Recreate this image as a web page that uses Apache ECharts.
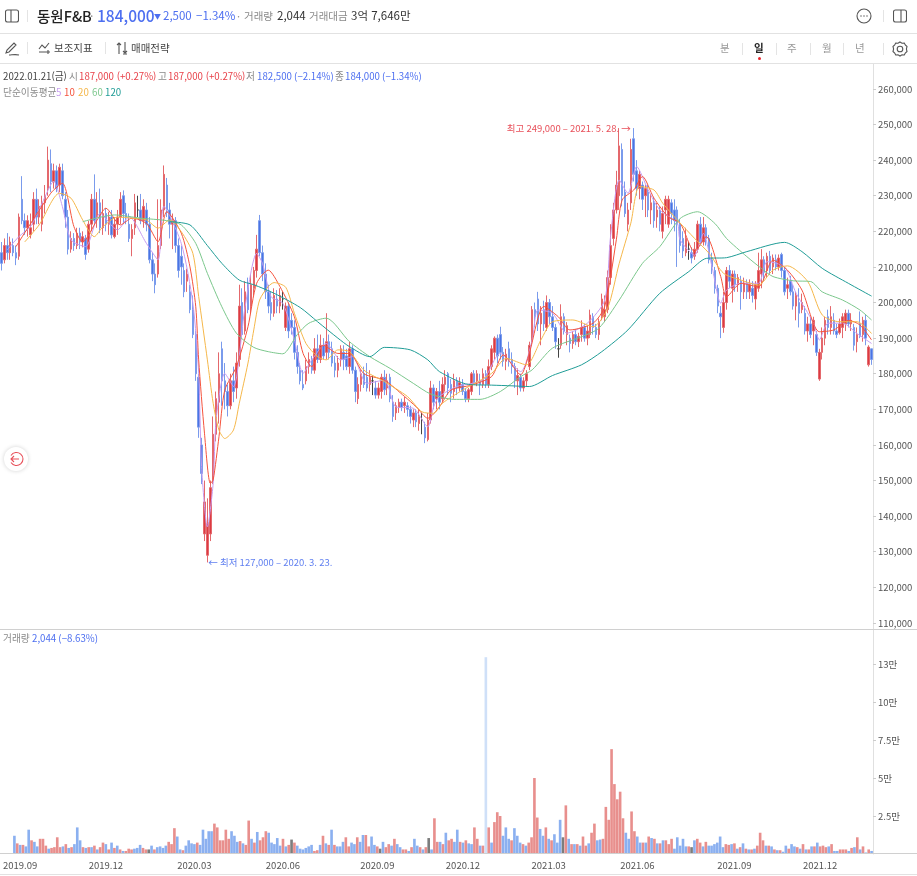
<!DOCTYPE html>
<html lang="ko">

<head>
    <meta charset="UTF-8">
    <title>동원F&amp;B</title>
    <script src="https://cdn.jsdelivr.net/npm/echarts@6/dist/echarts.min.js"></script>
    <style>
        html, body { margin: 0; padding: 0; background: #fff; }
        body { width: 917px; height: 876px; position: relative; overflow: hidden; font-family: "Noto Sans CJK KR", "Noto Sans", sans-serif; }
        #chart { position: absolute; left: 0; top: 0; width: 917px; height: 876px; }
        .t { position: absolute; white-space: nowrap; line-height: 1; transform: translateY(-50%); }
        .hr { position: absolute; left: 0; width: 917px; height: 1px; background: #e2e2e2; }
        .sep { position: absolute; width: 1px; height: 12px; background: #e4e4e4; }
        svg { position: absolute; fill: none; stroke: #555; stroke-width: 1.1; }
        .blue { color: #4d6ff0; } .red { color: #e8424a; } .gray { color: #8a8a8a; } .dark { color: #333; }
        .s10 { font-size: 9.7px; }
    </style>
</head>

<body>
    <div id="chart"></div>

    <div class="hr" style="top:33px"></div>
    <div class="hr" style="top:63px"></div>
    <div class="hr" style="top:629px;background:#d0d0d0"></div>
    <div class="hr" style="top:853px;background:#d0d0d0"></div>
    <div class="hr" style="top:874px"></div>

    <!-- 상단 종목 정보 -->
    <svg style="left:5px;top:9px" width="14" height="14"><rect x="0.5" y="1" width="13" height="12" rx="2"/><path d="M6 1v12"/></svg>
    <div class="sep" style="left:27px;top:10px"></div>
    <span class="t" style="left:37px;top:16px;font-size:14.5px;font-weight:500;color:#222">동원F&amp;B</span>
    <span class="t gray" style="left:90px;top:16px;font-size:12px">·</span>
    <span class="t blue" style="left:97px;top:16px;font-size:15.5px;font-weight:500">184,000</span>
    <span class="t blue" style="left:154px;top:16px;font-size:7px">▼</span>
    <span class="t blue" style="left:163px;top:16px;font-size:11.5px">2,500</span>
    <span class="t blue" style="left:196px;top:16px;font-size:11.5px">−1.34%</span>
    <span class="t gray" style="left:237px;top:16px;font-size:11px">·</span>
    <span class="t gray" style="left:244px;top:16px;font-size:10.5px">거래량</span>
    <span class="t dark" style="left:277px;top:16px;font-size:11.5px">2,044</span>
    <span class="t gray" style="left:309px;top:16px;font-size:10.5px">거래대금</span>
    <span class="t dark" style="left:351px;top:16px;font-size:11.5px">3억 7,646만</span>
    <svg style="left:856px;top:8px" width="16" height="16"><circle cx="8" cy="8" r="7"/><path d="M4.5 8h1M7.5 8h1M10.5 8h1" stroke-width="1.4"/></svg>
    <div class="sep" style="left:883px;top:10px"></div>
    <svg style="left:893px;top:9px" width="14" height="14"><rect x="0.5" y="1" width="13" height="12" rx="2"/><path d="M8 1v12"/></svg>

    <!-- 도구 모음 -->
    <svg style="left:5px;top:41px" width="15" height="15"><path d="M1 12l1-3 7-7 2 2-7 7zM4 14c3 0 6-1 10 0"/></svg>
    <div class="sep" style="left:27px;top:42px"></div>
    <svg style="left:38px;top:42px" width="13" height="12"><path d="M1 7l3-4 3 3 4-5M1 10h7M10 8v4M8 10h4"/></svg>
    <span class="t" style="left:54px;top:48px;font-size:10.5px;color:#444">보조지표</span>
    <div class="sep" style="left:105px;top:42px"></div>
    <svg style="left:116px;top:41px" width="12" height="14"><path d="M3 13V2M1 4l2-2 2 2M9 1v11M7 10l2 2 2-2M7 13h4"/></svg>
    <span class="t" style="left:131px;top:48px;font-size:10.5px;color:#444">매매전략</span>
    <span class="t" style="left:720px;top:48px;font-size:10.5px;color:#999">분</span>
    <div class="sep" style="left:742px;top:43px"></div>
    <span class="t" style="left:754px;top:48px;font-size:10.5px;font-weight:700;color:#222">일</span>
    <div style="position:absolute;left:758px;top:57px;width:3px;height:3px;border-radius:2px;background:#e8242c"></div>
    <div class="sep" style="left:776px;top:43px"></div>
    <span class="t" style="left:787px;top:48px;font-size:10.5px;color:#999">주</span>
    <div class="sep" style="left:810px;top:43px"></div>
    <span class="t" style="left:822px;top:48px;font-size:10.5px;color:#999">월</span>
    <div class="sep" style="left:843px;top:43px"></div>
    <span class="t" style="left:855px;top:48px;font-size:10.5px;color:#999">년</span>
    <div class="sep" style="left:883px;top:43px"></div>
    <svg style="left:892px;top:41px" width="16" height="16"><path d="M8 1l2 1.2 2.3-.2 1 2 1.7 1.5-.6 2.5.6 2.5-1.7 1.500-1 2-2.300-.2L8 15l-2-1.200-2.300.2-1-2L1 10.500 1.600 8 1 5.500 2.700 4l1-2 2.300.2z"/><circle cx="8" cy="8" r="2.800"/></svg>

    <!-- 시세 범례 -->
    <span class="t s10" style="left:3px;top:77px;color:#444">2022.01.21(금)</span>
    <span class="t s10 gray" style="left:69px;top:77px">시</span>
    <span class="t s10 red" style="left:79px;top:77px">187,000 (+0.27%)</span>
    <span class="t s10 gray" style="left:158px;top:77px">고</span>
    <span class="t s10 red" style="left:168px;top:77px">187,000 (+0.27%)</span>
    <span class="t s10 gray" style="left:246px;top:77px">저</span>
    <span class="t s10 blue" style="left:257px;top:77px">182,500 (−2.14%)</span>
    <span class="t s10 gray" style="left:335px;top:77px">종</span>
    <span class="t s10 blue" style="left:345px;top:77px">184,000 (−1.34%)</span>
    <span class="t s10 gray" style="left:3px;top:93px">단순이동평균</span>
    <span class="t s10" style="left:56px;top:93px;color:#c79cf0">5</span>
    <span class="t s10" style="left:64px;top:93px;color:#f5533d">10</span>
    <span class="t s10" style="left:78px;top:93px;color:#f5b74a">20</span>
    <span class="t s10" style="left:92px;top:93px;color:#7bc78c">60</span>
    <span class="t s10" style="left:105px;top:93px;color:#1f9c96">120</span>
    <span class="t s10 gray" style="left:3px;top:639px">거래량</span>
    <span class="t s10 blue" style="left:32px;top:639px">2,044 (−8.63%)</span>

    <!-- 좌측 이동 버튼 -->
    <div style="position:absolute;left:4px;top:447px;width:24px;height:24px;border-radius:12px;background:#fff;box-shadow:0 0 4px rgba(0,0,0,.18)"></div>
    <svg style="left:8px;top:451px;stroke:#e8505a" width="16" height="16"><path d="M3 4.500A6.500 6.500 0 1 1 3 11.500M11 8H3M6 5L3 8l3 3"/></svg>

    <script>
        // 단위: 가격 천원, 거래량 천주 / 2거래일 간격으로 그림에서 읽은 값
        const opens = [
            214,212,216,214,216,214,213,229,223,221, 219,222,229,224,222,228,232,239,234,237,
            233,237,229,224,215,218,216,219.5,217,218, 215,222,229,224,228,221,225,222,224,218.5,
            222,224,230,225,222,218,221,226,226,223, 226,222,212,208,208,216,226,233,226,222,
            223,216,213,209,206,203,198,191,179,160, 135,129,135,150,163,172,187,178,175,171,
            178,176,184,200,192,205,199,204,209,223, 214,208,203,200,197,201,199,201,193,199,
            195,193,186,181,177,178,182,184,181,187, 184,188,186,189,187,183,181,184,186,185,
            182,187,181,173,177,180,179,177,178,176, 174,175,179,176,179,172,169,170.5,172,171,
            171,170,167,169,166,167,165,161.5,167,176, 173,175,173,177,180,177,175,178,176,177,
            175,173,175,180,178,178,177,180,177,182, 186,190,191,186,183.5,187,184,182,178,179,
            176,178,182,190,198,201,194,198,193,200, 196,193,187,188,196,191,190,188.5,191,189,
            191,193,190,191,196,193,191,196,196,198, 207,218,226,230,243,231,222,228,246,237,
            232,233,230,231,226,228,224,226,220,226, 222,228,226,226,222,218,214,215,214,213,
            215,222,217,221,218,212,209,204,197,193, 200,209,204,208,205,206,203,205.5,203,204,
            201,204,208,212,209,213,210,212,210,213.5, 209,204,206,203,199,200,198,197,192,194,
            192,191,178.5,186,190,196,193,195,192,191.5, 193,194,197,194,193,189,194,191,195,182.5,187
        ];
        const closes = [
            211,216,214,217,214,212.5,224,223,221,223, 221,229,224,227,228,230,240,234,237,232,
            238,230,224,215,218,216,219.5,217,218.5,213.5, 222,229,223,228,221,225,222,224,219,222,
            224,229,225,224,218,220.5,228,226,223,227, 222,212,208,205,216,226,236,226,222,223,
            216,209,210,203,208,198,191,180,165,152, 144,138,148,163,173,180,178,175,171,178,
            175,183,199,191,203,198,205,209,215,214, 208,203,199,197,202,199,202,201,199,192,
            193,186,182,178,176,182,184,181,187,184, 188,185,189,186,183,181,183,187,184,182,
            187,181,175,177,180,177,176,179,178,174, 176,179,175.5,178,173,168,171,172,170.5,172,
            170,168,169,166.5,168,167,162,167,176,172, 175,172,177,179,176,174.5,178,176,177.5,175,
            173,175.5,180,177.5,180,177,180,177,182,187, 190,185,186,183.5,185.5,184,182,178,179.5,176,
            178,180,188,198,196,194,197,194,200,196, 193,189,187,196,192,193.5,188.5,191,189,190.5,
            193,190,192,196.5,193,191,194.5,201,198,207, 216,226,233,244,230,225,226,243,236,232,
            236,229,232,226,228,223,226,222,225,229, 229,225,223,222,216,214.5,218,215,212.5,215,
            222,217,221,218,212,210,204,199,196,200, 209,206,208,205,207,203,205.5,203,205,202,
            205,209,212,208.5,213,209,212.5,210,212.5,209, 203,205,203,199,202,197,200,192,194,191,
            195,186,186,190,195,193,196,192,191,194, 196,197,194,195,188,191,190.5,195,190,187.5,184
        ];
        const lows = [
            209,211,212,212,213,210.5,212,222,219,218.5, 218,220,222,222,220,225,230,231,232,231,
            231,229,221,213.5,214,214.5,215,215,215.5,212, 214,220,222,221,219.5,219,220,219,218,218,
            219,222,222,222,217,213,219,224,222,221, 220,211,206,202.6,207,215,224,224,218,215,
            214,207,205,201.5,203,197,190,178,162,149, 133,127,133,149,161,166,171,170,168,170,
            172,173,182,190,191,197,197,202,207,213, 206,201,197,195,196,197,197,198,192,190,
            191,184,180,177,175.4,177,180,180,180,183, 183,184,184,184,182,179,179,182,181,181,
            180,180,172,171.5,175,176,175,175,174,173, 173,173,174,174,172,166.5,167,169,169.5,169,
            168,166,165,165,164,163,160.5,161,166,170, 170,170,172,175,174,172,173,174,175,174,
            172,172,174,177,176.5,174,176,176,176,181, 184,183,184,182,181,182,180,176,174,175,
            175,176.5,181,188,193,192,188,192,192,194, 192,187,184.5,187,191,188,186,187,188,187.5,
            189,189,188,190,191,190,189.5,195,194.5,197, 205,216,225,226,227,224,220,226,234,230,
            229,226,224,224,222,221,221,220,218,222, 221,222,220,210,214,212.5,213,212,211,212,
            214,216,216,216,211,208,202.5,197,190,191.5, 198,204,200,203,203,198,201,201,201,200,
            198,203,204,206,207,208,208,209,209,207, 202,201,202,198,195,193,197,191,189,190,
            188,185,178,184,188,191,191,191,190,191, 190,192,193,192,186.5,186,190,189,188,182,182.5
        ];
        const highs = [
            217,218,219.5,218.5,218,216,225,235.5,225,224.5, 225,231,232,229,230,233,243.8,243,239,238.5,
            239,239,231,226,220,219.5,221,221,220,219, 223,230.5,236,231,232,229,226.5,225.5,226,224,
            226,231,231.5,228,225,222,230.5,230,230.5,229, 228,224,214,211,229,229,238.5,235,228,225,
            224,218,216,211,209.5,205,202,192,180,162, 150,145,150,168,175,186,189,183,177,180,
            182,186,205,204,206,207,208,210,219,224.6, 216,211,205,203,204,203.5,204,203,200,200,
            197,195,188,183,181,184,186,185,190,191, 191,190,197,191,189,185,185,188,188,187,
            189,188,182,179,181,182,183,181,179.5,178, 177.5,180,181,180,180,174,172,173,173,173.5,
            172,171,170,170,170,169,166.5,169,178,177, 176,178,179,181,180.5,178.5,180,179,179,178.5,
            176,176,180.5,181,181,180,181.5,181,184,188, 190.5,191,193.2,187.5,187,189,186,183,181.5,180,
            179,181,189,199,200,203,199,200.5,202,201, 199,194,190,199.5,197,194.5,191,192,192.5,191.5,
            195,194,193.5,198,197,194,195.5,202.5,202,209, 222,228,237,249,244.7,234,228,246,249,240,
            237,234,233,233,230.5,229.5,228,227,227,230, 230,229,229,227,223.5,220,221,217,215.5,217,
            223,224,224,222,219,214,210,205,199,203, 210,210.5,209,209,208,207.5,207,206.5,206.5,206,
            206,214,215,213,214,214.5,213.5,213.5,213.5,214, 210,207,207.5,205,203,204,202.5,199,196,196,
            196,192,187,193,196,198,199,197,194,195.5, 197,198,198,197,194,193,197.5,196,196.5,188,187
        ];
        const volumes = [
            12,7,6,6,5,16,9,8,5,10, 10,5.5,3.5,4,4.5,11,4.5,5,6.5,4,
            4.5,6.5,17.5,9,4.5,4,4.5,4.5,5.5,3, 4.5,7.5,6.5,3,7.5,4,5.5,3,2,2,
            3.5,3,3.5,4,6,4,3,3,5.5,3, 4.5,5,4,5.5,8,6.5,17,11.5,3,2.5,
            5.5,9,7,6.5,7.5,6,16,10,15,15, 20,17.5,9,9,16,10,15,12,8,8.5,
            7,6,22,10,7.5,14.5,9,11,15,14, 7.5,6.5,10.5,5.5,10,5,6,9.5,7.5,5.5,
            3.5,3,4,5,6,2,2.5,6,12,7, 6,16,6,5,5,8,11,5,7.5,6.5,
            11,8,12.5,12.5,5,11.5,6,5,3.5,8, 4.5,6.5,5.5,10,6.5,4.5,3,3,2,4.5,
            10,5.5,4.5,3,4.5,10.5,3,23.5,8,8, 6.5,14,9,10,8,16,8,7.5,9,7,
            6.5,17.5,10,5.5,5.5,129.5,17.5,7.5,21,27.5, 25,12,17.5,10,9,17,12,7.5,6.5,5.5,
            7.5,11,50,24,16.5,12,17.5,10,9,13, 7.5,22.5,11,32,10,6.5,6.5,6.5,5.5,11.5,
            5.5,7,14,20,9,9.5,10,31,22.5,69, 46,36,41,23.5,14,10,28,15,11.5,7.5,
            7.5,7.5,11.5,10.5,10,7,7,9,9,6.5, 10,3.5,11,5.5,10,5,5,4.5,9,10,
            7.5,5,8,5.5,5.5,6.5,7.5,11.5,4.5,6.5, 6,6.5,7,3.5,4.5,7,3.5,3,3,3.5,
            5.5,14,9,5.5,5.5,5,3,2.5,2.5,1.5, 5.5,3.5,6.5,5,4.5,3.5,6.5,3,3,5,
            5,7.5,5,5.5,4.5,5,6.5,2,2,3, 3,3,2,4,4.5,11,3,5,1,3,2
        ];

        // 이동평균: 캔들 번호와 값
        const ma5At = [2,6,10,14,18,21,24,29,34,40,44,50,54,56,62,66,68,69,71,73,74,77,80,84,88,90,93,97,101,104,107,112,117,121,126,132,136,142,147,149,151,157,166,172,179,183,185,190,195,202,208,210,213,216,219,223,227,233,234,239,242,245,248,250,255,261,264,270,274,280,282,285,290,295,300];
        const ma5 = [214.8,218.5,221.3,227.9,234,227,217.6,215.7,225,220.4,224.1,216.6,212,227,216.6,199.8,180.1,153.9,137,149.2,167,180.1,176.4,198.8,213.8,211,201.6,199.8,189.5,180.1,183.9,188.5,183.9,184.8,177.3,178.2,170.7,170.3,165.1,170.7,173.6,176.4,178.3,185.7,180.6,189.5,197.9,197,191.4,194.2,200.7,218.5,234.4,230.7,238.2,231.6,226,222.3,217.6,213.3,219.4,210,199.8,203.5,205.4,205.4,211.5,210,202.6,194.2,189.5,194.2,194.2,191.3,188.5];
        const ma10At = [5,17,21,25,28,33,36,41,45,50,54,57,62,65,67,68,70,72,73,75,77,81,85,88,92,96,101,104,107,111,116,120,125,132,139,143,147,151,155,162,169,173,179,182,187,192,196,204,208,212,214,218,221,225,230,234,239,243,248,250,255,261,266,271,276,282,287,292,296,300];
        const ma10 = [215.7,230.7,233.5,221.3,217,223.2,226.5,221.8,223.7,222.2,217.1,225.5,219.5,210,198.8,183.9,163.3,149.2,150.2,162.3,175.4,182,193.2,205.4,209.1,204.5,196,185.7,182,188,185.7,185.7,180,178.2,173.6,170.7,167.5,170.7,175.4,176.8,179.2,185.3,179.7,185.8,198.9,196,192.3,194.2,198.9,217.6,228.8,231.6,235.4,229.3,224,222.3,214.3,218.5,207.3,201.6,205.4,204.4,211.9,209.1,203.5,191.8,192.3,195,193.7,189.5];
        const ma20At = [8,13,20,24,28,32,35,40,45,50,54,58,62,66,68,71,73,75,77,80,82,85,87,89,92,94,98,101,105,109,112,116,120,125,132,140,145,149,152,159,169,174,181,186,190,197,204,209,213,217,220,225,228,233,239,244,249,255,261,266,271,278,283,289,295,300];
        const ma20 = [217,221.8,230.7,229.3,223.2,218.5,221.3,224,223.7,223.2,220.9,223.2,219.9,213.8,201.7,183.9,171.7,164.2,161.8,164.2,171.7,183,192.3,200.7,204.5,205.6,204.3,197,188.5,184.8,183.9,186.7,186.2,181,177.8,173.6,169.3,168.9,171.7,175.4,180.1,184.3,182.5,189.5,194.6,195.1,193.2,198.4,211,222.3,232.6,231.6,227.9,223.2,218,213.8,208.2,206.3,204.9,209.1,210.3,205.9,196.5,194.6,194.6,191.3];
        const ma60At = [28,39,48,57,62,67,71,76,81,87,92,97,102,106,112,120,127,134,142,148,156,165,172,179,183,190,200,206,213,221,227,234,240,246,250,257,262,266,273,279,283,290,296,300];
        const ma60 = [222.7,224.6,223.7,223,221.8,216.6,208.2,198.8,191.4,187.4,186.2,185.6,191,194.2,195.6,189,184.8,181.5,177.3,174.3,172.8,172.8,175,179.2,181.1,187.2,190.4,192.8,200.7,211,215.7,223.6,225.5,222.2,218,212.9,209.6,207.3,206.1,205.9,203,200.7,197.9,195.1];
        const ma120At = [58,65,71,76,82,87,94,103,109,116,120,127,132,141,147,151,161,169,176,182,190,200,207,216,227,237,243,250,257,270,276,283,292,300];
        const ma120 = [222.7,221.8,216,211,206.3,205,202.6,198.6,194.6,190,187.6,184.8,187.4,186.7,183.9,180.6,177,176.8,176.6,176.4,179.5,182.5,186.2,192.3,202.6,208.7,212.4,212.6,214.3,216.9,214.3,209.6,205.4,201.8];

        const monthAt = [2,32,63,94,127,157,187,218,252,282];
        const monthLabels = ['2019.09','2019.12','2020.03','2020.06','2020.09','2020.12','2021.03','2021.06','2021.09','2021.12'];
        const priceTicks = [110,120,130,140,150,160,170,180,190,200,210,220,230,240,250,260];
        const volumeTicks = [25,50,75,100,125];
        const volumeTickLabels = ['2.5만','5만','7.5만','10만','13만'];

        const font = '"Noto Sans CJK KR", "Noto Sans", sans-serif';
        const categories = opens.map(function (o, i) {
            const k = monthAt.indexOf(i);
            return k >= 0 ? monthLabels[k] : '';
        });
        const candles = opens.map(function (o, i) {
            return [o, closes[i], lows[i], highs[i]];
        });
        const volumeData = volumes.map(function (v, i) {
            let color = closes[i] > opens[i] ? '#e88f8d' : '#8bb0f0';
            if (closes[i] === opens[i]) color = '#7d7d7d';
            if (v > 100) color = '#cfe0f8';
            return { value: v, itemStyle: { color: color } };
        });

        function maSeries(at, values, color) {
            return {
                type: 'line',
                data: at.map(function (d, k) { return [d, values[k]]; }),
                smooth: 0.25,
                showSymbol: false,
                symbol: 'none',
                silent: true,
                lineStyle: { color: color, width: 1 },
                z: 5
            };
        }

        let myChart = echarts.init(document.getElementById('chart'));

        let option = {
            animation: false,
            textStyle: { fontFamily: font },
            grid: [
                { left: 0, right: 44, top: 64, height: 565 },
                { left: 0, right: 44, top: 630, height: 224 }
            ],
            xAxis: [
                {
                    type: 'category', gridIndex: 0, data: categories,
                    axisLine: { show: false }, axisTick: { show: false }, axisLabel: { show: false }, splitLine: { show: false }
                },
                {
                    type: 'category', gridIndex: 1, data: categories,
                    axisLine: { show: false },
                    axisTick: {
                        alignWithLabel: true, length: 3, lineStyle: { color: '#bbb' },
                        interval: function (i, v) { return v !== ''; }
                    },
                    axisLabel: {
                        color: '#555', fontSize: 9.5, margin: 7, hideOverlap: false,
                        interval: function (i, v) { return v !== ''; }
                    },
                    splitLine: { show: false }
                }
            ],
            yAxis: [
                {
                    type: 'value', gridIndex: 0, position: 'right', min: 108.3, max: 267,
                    axisLine: { show: true, lineStyle: { color: '#e0e0e0' } },
                    axisTick: { show: true, length: 3, lineStyle: { color: '#ccc' }, customValues: priceTicks },
                    axisLabel: {
                        color: '#555', fontSize: 9.5, margin: 5, customValues: priceTicks,
                        formatter: function (v) { return v + ',000'; }
                    },
                    splitLine: { show: false }
                },
                {
                    type: 'value', gridIndex: 1, position: 'right', min: 0, max: 147.4,
                    axisLine: { show: true, lineStyle: { color: '#e0e0e0' } },
                    axisTick: { show: true, length: 3, lineStyle: { color: '#ccc' }, customValues: volumeTicks },
                    axisLabel: {
                        color: '#555', fontSize: 9.5, margin: 5, customValues: volumeTicks,
                        formatter: function (v) { return volumeTickLabels[volumeTicks.indexOf(v)]; }
                    },
                    splitLine: { show: false }
                }
            ],
            series: [
                {
                    type: 'candlestick',
                    data: candles,
                    barWidth: 2,
                    itemStyle: {
                        color: '#dc3a42', color0: '#4a74e4',
                        borderColor: '#e4686c', borderColor0: '#7a9bec', borderColorDoji: '#444',
                        borderWidth: 1
                    },
                    markPoint: {
                        symbol: 'circle', symbolSize: 0, silent: true,
                        data: [
                            {
                                coord: [218, 249],
                                label: { show: true, position: 'left', distance: 3, color: '#e8505a', fontSize: 9.5, formatter: '최고 249,000 – 2021. 5. 28. →' }
                            },
                            {
                                coord: [71, 127],
                                label: { show: true, position: 'right', distance: 1, color: '#5f7ff0', fontSize: 9.5, formatter: '← 최저 127,000 – 2020. 3. 23.' }
                            }
                        ]
                    },
                    markLine: {
                        symbol: 'none', silent: true,
                        lineStyle: { opacity: 0 },
                        data: [{ yAxis: 184 }],
                        label: {
                            position: 'end', distance: 0, formatter: '184,000', color: '#fff', fontSize: 9.5,
                            backgroundColor: '#4468e8', padding: [3, 6, 3, 7]
                        }
                    }
                },
                maSeries(ma5At, ma5, '#c79cf0'),
                maSeries(ma10At, ma10, '#f5533d'),
                maSeries(ma20At, ma20, '#f5b74a'),
                maSeries(ma60At, ma60, '#7bc78c'),
                maSeries(ma120At, ma120, '#1f9c96'),
                {
                    type: 'bar',
                    xAxisIndex: 1, yAxisIndex: 1,
                    data: volumeData,
                    barCategoryGap: '8%'
                }
            ]
        };

        myChart.setOption(option);
    </script>
</body>

</html>
